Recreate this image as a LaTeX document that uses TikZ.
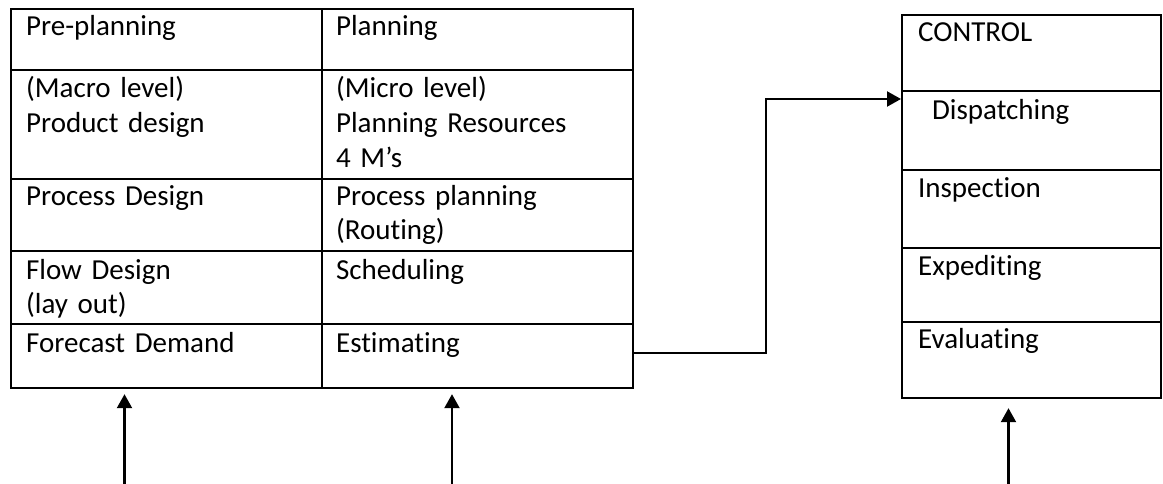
\documentclass[tikz,border=0pt]{standalone}
\usepackage{fontspec}
\setmainfont[Ligatures=NoCommon]{Carlito}
\usetikzlibrary{arrows.meta}

\begin{document}
\begin{tikzpicture}[x=1pt, y=-1pt, line width=2.2pt,
        cell/.style={draw, anchor=north west, minimum width=#1, inner sep=0pt},
        txt/.style={anchor=base west, align=left, text width=290pt, inner sep=0pt,
            font=\fontsize{29}{35}\selectfont},
        arr/.style={-{Triangle[length=14pt, width=15pt]}}]
        \useasboundingbox (0,0) rectangle (1163,484);

        % left table: pre-planning and planning
        \node[cell=311pt, minimum height=61pt] (pre) at (10,8) {};
        \node[cell=311pt, minimum height=109pt] (macro) at (10,69) {};
        \node[cell=311pt, minimum height=72pt] (prodes) at (10,178) {};
        \node[cell=311pt, minimum height=73pt] (flow) at (10,250) {};
        \node[cell=311pt, minimum height=64pt] (fore) at (10,323) {};
        \node[cell=311pt, minimum height=61pt] (plan) at (321,8) {};
        \node[cell=311pt, minimum height=109pt] (micro) at (321,69) {};
        \node[cell=311pt, minimum height=72pt] (procpl) at (321,178) {};
        \node[cell=311pt, minimum height=73pt] (sched) at (321,250) {};
        \node[cell=311pt, minimum height=64pt] (est) at (321,323) {};

        \node[txt] at ([shift={(15,28)}]pre.north west) {Pre-planning};
        \node[txt] at ([shift={(15,29)}]macro.north west) {(Macro level)\\Product design};
        \node[txt] at ([shift={(15,27)}]prodes.north west) {Process Design};
        \node[txt] at ([shift={(15,29)}]flow.north west) {Flow Design\\(lay out)};
        \node[txt] at ([shift={(15,29)}]fore.north west) {Forecast Demand};
        \node[txt] at ([shift={(14,28)}]plan.north west) {Planning};
        \node[txt] at ([shift={(14,29)}]micro.north west) {(Micro level)\\Planning Resources\\4 M’s};
        \node[txt] at ([shift={(14,27)}]procpl.north west) {Process planning\\(Routing)};
        \node[txt] at ([shift={(14,29)}]sched.north west) {Scheduling};
        \node[txt] at ([shift={(14,29)}]est.north west) {Estimating};

        % right box: control
        \node[cell=259pt, minimum height=76pt] (ctrl) at (901,14) {};
        \node[cell=259pt, minimum height=79pt] (disp) at (901,90) {};
        \node[cell=259pt, minimum height=78pt] (insp) at (901,169) {};
        \node[cell=259pt, minimum height=74pt] (exped) at (901,247) {};
        \node[cell=259pt, minimum height=76pt] (eval) at (901,321) {};

        \node[txt] at ([shift={(16,28)}]ctrl.north west) {CONTROL};
        \node[txt] at ([shift={(30,30)}]disp.north west) {Dispatching};
        \node[txt] at ([shift={(16,28)}]insp.north west) {Inspection};
        \node[txt] at ([shift={(16,28)}]exped.north west) {Expediting};
        \node[txt] at ([shift={(16,27)}]eval.north west) {Evaluating};

        \coordinate (in1) at (124.5,484);
        \coordinate (in2) at (452,484);
        \coordinate (in3) at (1008.5,484);

        \draw[arr] ([yshift=3pt]est.east) -- ++(132,0) |- ([yshift=-9pt]disp.north west);
        \draw[arr, shorten >=5pt] (in1) -- (in1 |- fore.south);
        \draw[arr, shorten >=5pt] (in2) -- (in2 |- est.south);
        \draw[arr, shorten >=9pt] (in3) -- (in3 |- eval.south);
    \end{tikzpicture}
\end{document}
